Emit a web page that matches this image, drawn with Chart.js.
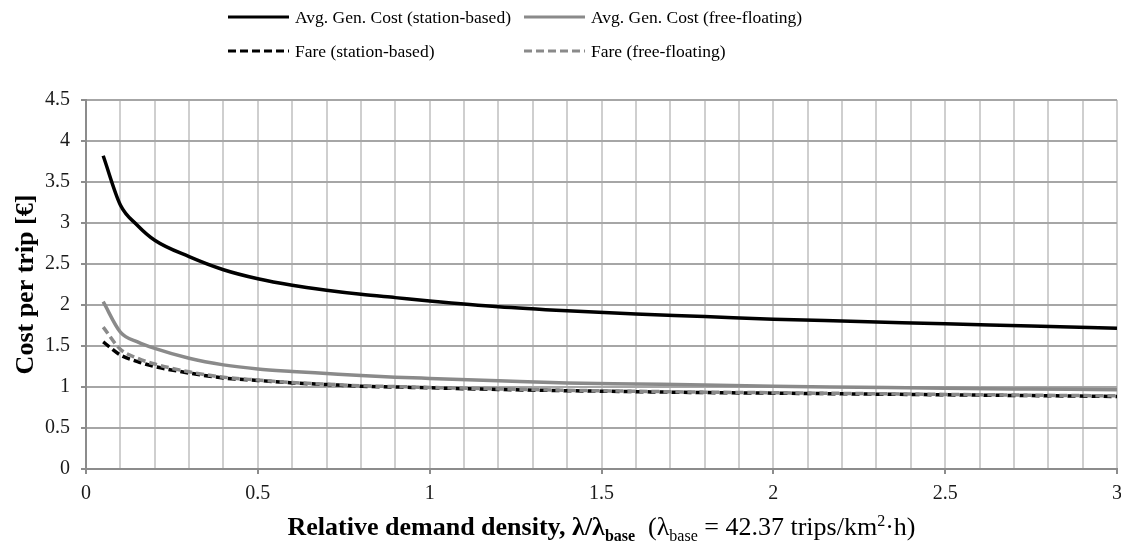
<!DOCTYPE html>
<html>
<head>
<meta charset="utf-8">
<script src="https://cdn.jsdelivr.net/npm/chart.js@4/dist/chart.umd.min.js"></script>
<style>
  html, body { margin: 0; padding: 0; background: #fff; }
  #wrap { width: 1121px; height: 546px; position: relative; }
</style>
</head>
<body>
<div id="wrap"><canvas id="c"></canvas></div>
<script>
// Relative demand density (λ / λ_base)
const demandRatio = [0.05, 0.1, 0.15, 0.2, 0.3, 0.4, 0.5, 0.6, 0.7, 0.8, 0.9, 1.0, 1.2, 1.4, 1.6, 1.8, 2.0, 2.25, 2.5, 2.75, 3.0];

// Cost per trip [€]
const genCostStation = [3.82, 3.22, 2.97, 2.79, 2.59, 2.43, 2.32, 2.24, 2.18, 2.13, 2.09, 2.05, 1.98, 1.93, 1.89, 1.86, 1.825, 1.80, 1.77, 1.745, 1.716];
const genCostFree    = [2.04, 1.67, 1.55, 1.47, 1.35, 1.27, 1.22, 1.19, 1.165, 1.14, 1.12, 1.105, 1.077, 1.05, 1.037, 1.024, 1.01, 0.997, 0.984, 0.975, 0.967];
const fareStation    = [1.55, 1.39, 1.31, 1.25, 1.17, 1.11, 1.08, 1.05, 1.03, 1.01, 1.00, 0.99, 0.97, 0.955, 0.943, 0.932, 0.925, 0.915, 0.905, 0.895, 0.885];
const fareFree       = [1.73, 1.46, 1.35, 1.28, 1.185, 1.12, 1.085, 1.055, 1.035, 1.015, 1.005, 0.995, 0.977, 0.96, 0.948, 0.937, 0.93, 0.92, 0.91, 0.90, 0.892];

const seriesLabels = [
  'Avg. Gen. Cost (station-based)',
  'Avg. Gen. Cost (free-floating)',
  'Fare (station-based)',
  'Fare (free-floating)'
];

const yTitle = 'Cost per trip [€]';

const SERIF = '"Liberation Serif", "Times New Roman", serif';
const BLACK = '#000000';
const GREY = '#8a8a8a';

const toPoints = vals => demandRatio.map((x, i) => ({ x: x, y: vals[i] }));

// Two-column legend grid drawn above the plot
const legendGrid = {
  id: 'legendGrid',
  afterDraw(chart, args, opts) {
    const ctx = chart.ctx;
    ctx.save();
    chart.data.datasets.forEach((ds, i) => {
      const x = opts.columns[i % 2];
      const y = opts.rows[Math.floor(i / 2)];
      ctx.strokeStyle = ds.borderColor;
      ctx.lineWidth = 3;
      ctx.lineCap = 'butt';
      ctx.setLineDash(ds.borderDash || []);
      ctx.beginPath();
      ctx.moveTo(x, y);
      ctx.lineTo(x + opts.lineLength, y);
      ctx.stroke();
      ctx.setLineDash([]);
      ctx.fillStyle = opts.color;
      ctx.font = opts.font;
      ctx.textAlign = 'left';
      ctx.textBaseline = 'middle';
      ctx.fillText(ds.label, x + opts.lineLength + opts.gap, y + 1);
    });
    ctx.restore();
  }
};

// Axis titles, including sub/superscripts in the x title
const axisTitles = {
  id: 'axisTitles',
  afterDraw(chart, args, opts) {
    const { ctx, chartArea } = chart;
    ctx.save();
    ctx.fillStyle = '#000';
    ctx.translate(opts.yTitleX, (chartArea.top + chartArea.bottom) / 2);
    ctx.rotate(-Math.PI / 2);
    ctx.font = 'bold ' + opts.size + 'px ' + SERIF;
    ctx.textAlign = 'center';
    ctx.textBaseline = 'middle';
    ctx.fillText(opts.yTitle, 0, 0);
    ctx.restore();

    const big = opts.size, small = Math.round(opts.size * 0.63);
    const segs = [
      { t: 'Relative demand density, λ/λ', f: 'bold ' + big + 'px ' + SERIF, dy: 0 },
      { t: 'base', f: 'bold ' + small + 'px ' + SERIF, dy: 6 },
      { t: '  (λ', f: big + 'px ' + SERIF, dy: 0 },
      { t: 'base', f: small + 'px ' + SERIF, dy: 6 },
      { t: ' = 42.37 trips/km', f: big + 'px ' + SERIF, dy: 0 },
      { t: '2', f: small + 'px ' + SERIF, dy: -9 },
      { t: '·h)', f: big + 'px ' + SERIF, dy: 0 }
    ];
    ctx.save();
    ctx.fillStyle = '#000';
    ctx.textAlign = 'left';
    ctx.textBaseline = 'alphabetic';
    let total = 0;
    segs.forEach(s => { ctx.font = s.f; s.w = ctx.measureText(s.t).width; total += s.w; });
    let x = (chartArea.left + chartArea.right) / 2 - total / 2;
    segs.forEach(s => {
      ctx.font = s.f;
      ctx.fillText(s.t, x, opts.xBaseline + s.dy);
      x += s.w;
    });
    ctx.restore();
  }
};

const isHalf = v => Math.abs(v * 2 - Math.round(v * 2)) < 1e-6;

new Chart(document.getElementById('c'), {
  type: 'line',
  data: {
    datasets: [
      { label: seriesLabels[0], data: toPoints(genCostStation), borderColor: BLACK, borderWidth: 3.5, order: 3 },
      { label: seriesLabels[1], data: toPoints(genCostFree), borderColor: GREY, borderWidth: 3.5, order: 2 },
      { label: seriesLabels[2], data: toPoints(fareStation), borderColor: BLACK, borderWidth: 3.5, borderDash: [8, 4], order: 1 },
      { label: seriesLabels[3], data: toPoints(fareFree), borderColor: GREY, borderWidth: 3.5, borderDash: [8, 4], order: 0 }
    ]
  },
  options: {
    responsive: true,
    maintainAspectRatio: false,
    animation: false,
    devicePixelRatio: 1,
    layout: { padding: { top: 100, right: 4, left: 0, bottom: 0 } },
    elements: {
      point: { radius: 0, hoverRadius: 0 },
      line: { fill: false, cubicInterpolationMode: 'monotone' }
    },
    plugins: {
      legend: { display: false },
      tooltip: { enabled: false },
      legendGrid: {
        columns: [228, 524],
        rows: [17, 51],
        lineLength: 61,
        gap: 6,
        font: '17.5px ' + SERIF,
        color: '#000'
      },
      axisTitles: {
        yTitle: yTitle,
        yTitleX: 26,
        xBaseline: 535,
        size: 26
      }
    },
    scales: {
      x: {
        type: 'linear',
        min: 0,
        max: 3,
        afterFit: s => { s.height = 77; s.paddingLeft = 0; s.paddingRight = 0; },
        ticks: {
          stepSize: 0.1,
          autoSkip: false,
          maxRotation: 0,
          padding: 8,
          color: '#1a1a1a',
          font: { family: SERIF, size: 20 },
          callback: v => isHalf(v) ? String(Math.round(v * 2) / 2) : ''
        },
        grid: {
          color: '#cfcfcf',
          lineWidth: 2,
          tickLength: 5,
          tickColor: c => (c.tick && isHalf(c.tick.value)) ? '#8c8c8c' : 'rgba(0,0,0,0)',
          tickWidth: 2
        },
        border: { color: '#8c8c8c', width: 2 }
      },
      y: {
        min: 0,
        max: 4.5,
        afterFit: s => { s.width = 86; s.paddingTop = 0; s.paddingBottom = 0; },
        ticks: {
          stepSize: 0.5,
          padding: 11,
          color: '#1a1a1a',
          font: { family: SERIF, size: 20 },
          callback: v => String(Math.round(v * 2) / 2)
        },
        grid: {
          color: '#a6a6a6',
          lineWidth: 2,
          tickLength: 5,
          tickColor: '#8c8c8c',
          tickWidth: 2
        },
        border: { color: '#8c8c8c', width: 2 }
      }
    }
  },
  plugins: [legendGrid, axisTitles]
});
</script>
</body>
</html>
